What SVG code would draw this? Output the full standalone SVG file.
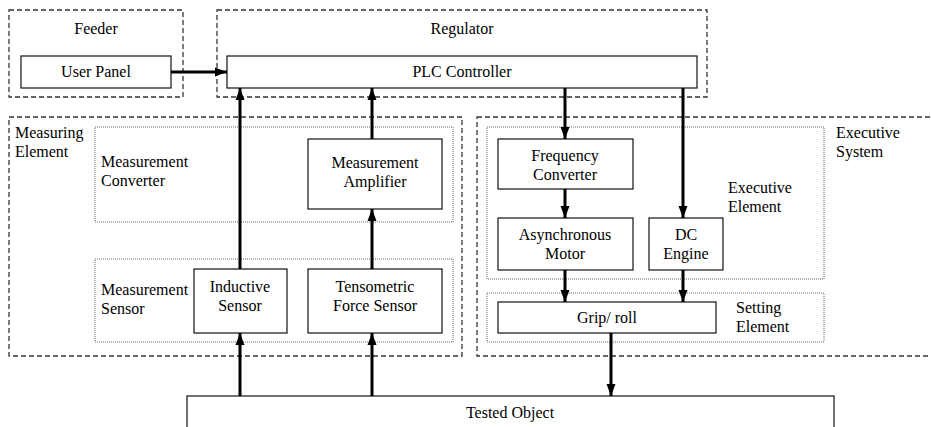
<svg xmlns="http://www.w3.org/2000/svg" width="931" height="427" viewBox="0 0 931 427" font-family="'Liberation Serif', 'DejaVu Serif', serif" font-size="16">
<defs>
<style>
text{fill:#000}
.c{text-anchor:middle}
.box{fill:#fff;stroke:#111;stroke-width:1.2}
.dash{fill:none;stroke:#333;stroke-width:1.3;stroke-dasharray:5,3}
.dot{fill:none;stroke:#666;stroke-width:1;stroke-dasharray:1,1}
.arr{fill:none;stroke:#000;stroke-width:3;marker-end:url(#ah)}
</style>
<marker id="ah" markerUnits="userSpaceOnUse" markerWidth="12" markerHeight="12" viewBox="0 0 12 12" refX="12" refY="6" orient="auto">
<path d="M0,1.5 L12,6 L0,10.5 Z" fill="#000"/>
</marker>
</defs>
<rect width="931" height="427" fill="#fff"/>

<g id="feeder">
<rect class="dash" x="9" y="10" width="174" height="87"/>
<text class="c" x="96" y="34">Feeder</text>
</g>
<g id="regulator">
<rect class="dash" x="217" y="10" width="490" height="87"/>
<text class="c" x="462" y="34">Regulator</text>
</g>
<g id="measuring-element">
<rect class="dash" x="9" y="117" width="453" height="239"/>
<text x="15" y="138">Measuring</text>
<text x="15" y="157">Element</text>
</g>
<g id="measurement-converter">
<rect class="dot" x="95" y="127" width="358" height="95"/>
<text x="101" y="167">Measurement</text>
<text x="101" y="186">Converter</text>
</g>
<g id="measurement-sensor">
<rect class="dot" x="95" y="259" width="358" height="83"/>
<text x="101" y="295">Measurement</text>
<text x="101" y="314">Sensor</text>
</g>
<g id="executive-system">
<rect class="dash" x="477" y="117" width="470" height="239"/>
<text x="836" y="138">Executive</text>
<text x="836" y="157">System</text>
</g>
<g id="executive-element">
<rect class="dot" x="487" y="127" width="337" height="152"/>
<text x="728" y="193">Executive</text>
<text x="728" y="212">Element</text>
</g>
<g id="setting-element">
<rect class="dot" x="487" y="293" width="337" height="49"/>
<text x="736" y="313">Setting</text>
<text x="736" y="332">Element</text>
</g>

<g id="user-panel">
<rect class="box" x="21" y="56" width="150" height="32"/>
<text class="c" x="96" y="77">User Panel</text>
</g>
<g id="plc-controller">
<rect class="box" x="227" y="56" width="470" height="32"/>
<text class="c" x="462" y="77">PLC Controller</text>
</g>
<g id="measurement-amplifier">
<rect class="box" x="308" y="139" width="134" height="70"/>
<text class="c" x="375" y="168">Measurement</text>
<text class="c" x="375" y="187">Amplifier</text>
</g>
<g id="inductive-sensor">
<rect class="box" x="194" y="269" width="93" height="64"/>
<text class="c" x="240" y="292">Inductive</text>
<text class="c" x="240" y="311">Sensor</text>
</g>
<g id="tensometric-force-sensor">
<rect class="box" x="308" y="269" width="134" height="64"/>
<text class="c" x="375" y="292">Tensometric</text>
<text class="c" x="375" y="311">Force Sensor</text>
</g>
<g id="frequency-converter">
<rect class="box" x="498" y="139" width="135" height="50"/>
<text class="c" x="565" y="161">Frequency</text>
<text class="c" x="565" y="180">Converter</text>
</g>
<g id="asynchronous-motor">
<rect class="box" x="498" y="218" width="135" height="52"/>
<text class="c" x="565" y="240">Asynchronous</text>
<text class="c" x="565" y="259">Motor</text>
</g>
<g id="dc-engine">
<rect class="box" x="649" y="218" width="74" height="52"/>
<text class="c" x="686" y="240">DC</text>
<text class="c" x="686" y="259">Engine</text>
</g>
<g id="grip-roll">
<rect class="box" x="498" y="302" width="218" height="31"/>
<text class="c" x="607" y="323">Grip/ roll</text>
</g>
<g id="tested-object">
<rect class="box" x="187" y="396" width="647" height="40"/>
<text class="c" x="510" y="418">Tested Object</text>
</g>

<g id="connectors">
<line class="arr" x1="171" y1="72" x2="227" y2="72"/>
<line class="arr" x1="240" y1="269" x2="240" y2="88"/>
<line class="arr" x1="372" y1="139" x2="372" y2="88"/>
<line class="arr" x1="372" y1="269" x2="372" y2="209"/>
<line class="arr" x1="240" y1="396" x2="240" y2="333"/>
<line class="arr" x1="372" y1="396" x2="372" y2="333"/>
<line class="arr" x1="565" y1="88" x2="565" y2="139"/>
<line class="arr" x1="683" y1="88" x2="683" y2="218"/>
<line class="arr" x1="565" y1="189" x2="565" y2="218"/>
<line class="arr" x1="565" y1="270" x2="565" y2="302"/>
<line class="arr" x1="683" y1="270" x2="683" y2="302"/>
<line class="arr" x1="611" y1="333" x2="611" y2="396"/>
</g>
</svg>
